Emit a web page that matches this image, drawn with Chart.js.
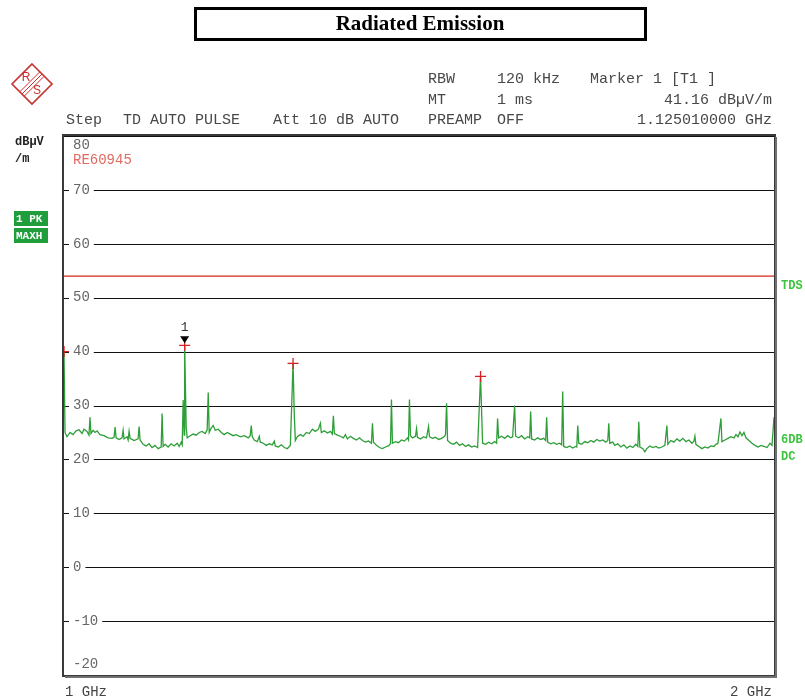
<!DOCTYPE html>
<html><head><meta charset="utf-8">
<script src="https://cdn.jsdelivr.net/npm/chart.js@4/dist/chart.umd.min.js"></script>
<style>html,body{margin:0;padding:0;background:#fff}canvas{display:block}</style>
</head><body>
<canvas id="c" width="805" height="699"></canvas>
<script>
// Sweep trace: frequency (MHz) and peak-hold level (dBµV/m)
const freqMHz = [
1000.0,1001.0,1002.9,1005.9,1008.8,1011.8,1014.8,1017.8,1019.7,1022.7,1024.7,1025.7,1026.7,1028.8,1030.8,1032.8,1035.8,1039.9,1044.0,1048.0,
1050.1,1051.1,1052.2,1055.2,1058.3,1059.4,1060.4,1063.5,1064.6,1065.6,1066.7,1070.8,1075.0,1076.1,1077.1,1080.3,1083.5,1086.6,1089.8,1093.0,
1096.2,1099.5,1100.5,1101.6,1103.8,1107.0,1110.3,1113.5,1116.8,1119.0,1121.2,1122.3,1123.4,1124.5,1125.01,1126.7,1127.8,1131.1,1134.4,1137.7,
1141.1,1144.4,1147.8,1150.0,1151.2,1152.3,1154.5,1156.8,1159.1,1162.5,1165.9,1169.3,1172.8,1176.2,1179.7,1183.1,1187.8,1192.4,1197.1,1199.4,
1200.6,1201.8,1204.1,1207.7,1210.0,1211.2,1214.8,1218.3,1221.9,1225.5,1227.9,1229.1,1232.7,1236.3,1240.0,1243.6,1246.0,1247.3,1250.6,1252.1,
1253.4,1255.8,1259.5,1263.2,1266.9,1270.6,1274.4,1278.1,1281.9,1284.4,1285.6,1289.4,1293.2,1297.0,1299.5,1300.8,1302.1,1305.9,1309.7,1313.6,
1316.2,1318.7,1322.6,1326.5,1330.4,1334.3,1338.2,1342.2,1346.1,1350.0,1351.4,1352.7,1356.7,1360.6,1364.6,1368.7,1372.7,1375.4,1376.7,1378.0,
1382.1,1386.2,1390.2,1394.3,1398.4,1399.8,1401.1,1402.5,1405.2,1409.4,1410.8,1412.1,1416.3,1420.5,1424.6,1427.4,1428.8,1433.0,1437.2,1441.4,
1445.7,1449.9,1451.3,1452.8,1454.2,1458.4,1462.7,1467.0,1471.3,1475.6,1480.0,1484.3,1488.7,1493.1,1497.5,1501.8,1504.8,1509.2,1513.7,1518.1,
1522.6,1525.5,1527.0,1528.5,1533.0,1537.5,1542.0,1546.5,1549.6,1552.6,1554.1,1558.7,1563.3,1567.9,1572.5,1575.6,1577.1,1578.6,1583.3,1587.9,
1592.6,1597.3,1600.4,1601.9,1603.5,1608.2,1613.0,1617.7,1622.4,1625.6,1627.2,1628.8,1633.6,1638.4,1643.2,1648.0,1649.7,1651.3,1652.9,1657.7,
1662.6,1667.5,1672.4,1677.3,1682.2,1687.2,1692.1,1697.1,1700.4,1702.1,1703.7,1708.7,1712.1,1717.1,1722.2,1727.2,1732.3,1737.4,1742.5,1747.6,
1751.0,1752.7,1754.5,1759.6,1763.1,1766.5,1771.7,1776.9,1782.1,1787.3,1792.6,1797.9,1801.4,1803.1,1808.4,1813.8,1819.1,1824.4,1829.8,1835.2,
1840.5,1845.9,1849.6,1851.4,1853.2,1858.6,1864.1,1869.5,1875.0,1880.5,1886.0,1889.8,1893.5,1899.0,1900.9,1906.5,1912.1,1917.7,1923.3,1927.1,
1930.9,1934.6,1938.4,1942.2,1946.0,1951.7,1957.4,1963.2,1969.0,1974.7,1980.5,1986.4,1992.2,1996.1,2000.0
];
const levelDb = [
40.0,25.0,24.2,25.0,24.6,25.3,25.5,24.8,25.6,25.2,24.5,27.8,24.8,25.4,25.0,25.3,24.6,24.4,24.0,23.9,
24.1,26.0,24.0,23.7,24.0,25.4,23.8,24.2,23.6,25.2,23.9,23.5,23.8,26.1,23.6,22.8,22.5,22.9,22.2,22.6,
22.0,22.3,28.5,22.4,22.8,22.3,22.9,22.5,23.0,22.4,23.2,22.7,31.0,24.5,41.16,26.0,24.0,24.4,24.7,24.5,
25.0,25.2,24.8,25.5,32.4,25.0,25.8,26.3,25.4,25.6,25.0,24.6,25.0,24.7,24.4,24.6,24.2,24.4,24.0,24.4,
26.3,24.2,23.6,23.3,24.3,23.2,23.0,22.6,22.9,22.7,23.4,22.5,22.3,22.7,22.2,22.0,22.4,22.6,37.8,28.3,
23.5,24.2,24.6,24.3,25.0,24.8,25.6,25.2,25.6,26.7,25.0,25.3,24.9,25.2,24.7,28.1,24.8,24.5,24.3,24.0,
24.6,23.8,24.3,23.9,23.6,24.0,23.5,23.2,23.4,23.0,26.7,23.2,22.6,22.2,22.0,22.3,22.5,22.9,31.1,23.0,
23.3,23.1,23.6,23.4,24.0,23.6,31.1,24.4,24.0,24.3,25.7,24.1,23.8,24.2,24.0,26.1,24.2,23.9,24.1,23.7,
23.9,24.3,24.6,30.4,23.5,23.0,22.8,23.2,22.6,22.9,22.4,22.7,22.3,22.5,22.2,35.4,23.0,22.8,23.2,22.9,
23.3,23.0,27.6,24.0,24.3,23.9,24.4,24.0,24.2,30.0,24.3,24.0,24.4,23.8,24.2,24.0,28.9,23.8,23.6,24.0,
23.7,23.9,23.5,27.8,23.2,22.9,23.1,22.8,23.0,22.7,32.6,22.4,22.2,22.5,22.1,22.4,22.3,26.3,23.0,22.8,
23.3,23.1,23.5,23.2,23.7,23.4,23.6,23.2,23.5,26.7,23.0,23.2,22.6,22.9,22.3,22.7,22.1,22.5,22.2,22.8,
22.4,27.0,22.3,22.0,21.4,22.0,22.5,22.2,22.4,22.1,22.3,22.6,26.3,22.8,23.5,23.2,23.8,23.4,23.9,23.3,
23.6,23.0,23.4,24.3,22.8,22.4,22.0,22.3,22.1,22.5,22.4,22.8,23.0,27.6,23.3,23.6,23.9,24.2,24.0,24.6,
24.2,25.1,24.4,25.0,24.0,23.5,23.0,22.6,22.3,22.6,22.4,22.2,23.0,22.6,27.8
];

// Peak markers (red crosses)
const peakFreqMHz = [1000.0, 1125.01, 1250.6, 1501.8];
const peakLevelDb = [40.0, 41.16, 37.8, 35.4];

// Limit line RE60945
const limitFreqMHz = [1000, 2000];
const limitLevelDb = [54, 54];

// Level axis labels
const yTickValues = [80, 70, 60, 50, 40, 30, 20, 10, 0, -10, -20];
const xEdgeLabels = ['1 GHz', '2 GHz'];

// Marker 1 readout
const marker1FreqGHz = 1.12501;
const marker1Level = 41.16;

const MONO = '"Liberation Mono", "DejaVu Sans Mono", monospace';
const GREEN_TXT = '#3ec43e';

function drawLogo(ctx) {
  const cx = 32, cy = 84, r = 20;
  ctx.save();
  ctx.strokeStyle = '#c8302c';
  ctx.lineWidth = 1.6;
  ctx.beginPath();
  ctx.moveTo(cx, cy - r); ctx.lineTo(cx + r, cy); ctx.lineTo(cx, cy + r); ctx.lineTo(cx - r, cy); ctx.closePath();
  ctx.stroke();
  // diagonal triple band between the letters
  ctx.lineWidth = 1;
  for (const o of [-2.2, 0, 2.2]) {
    ctx.beginPath();
    ctx.moveTo(cx - 10 + o, cy + 10 + o); ctx.lineTo(cx + 10 + o, cy - 10 + o);
    ctx.stroke();
  }
  ctx.fillStyle = '#c8302c';
  ctx.font = '12px "Liberation Sans", sans-serif';
  ctx.textAlign = 'center'; ctx.textBaseline = 'middle';
  ctx.fillText('R', cx - 6, cy - 6);
  ctx.fillText('S', cx + 5, cy + 7);
  ctx.restore();
}

const decor = {
  id: 'decor',
  beforeDatasetsDraw(chart) {
    const { ctx, chartArea: a, scales: { y } } = chart;
    ctx.save();
    ctx.strokeStyle = '#111';
    ctx.lineWidth = 1;
    yTickValues.forEach(v => {
      const py = Math.round(y.getPixelForValue(v)) + 0.5;
      ctx.beginPath(); ctx.moveTo(a.left, py); ctx.lineTo(a.right, py); ctx.stroke();
    });
    ctx.restore();
  },
  afterDatasetsDraw(chart) {
    const { ctx, chartArea: a, scales: { x, y } } = chart;
    ctx.save();
    // level labels on white patches over the grid
    ctx.font = '14px ' + MONO;
    ctx.textBaseline = 'middle';
    ctx.textAlign = 'left';
    yTickValues.forEach((v, i) => {
      let py = y.getPixelForValue(v);
      const txt = String(v);
      const w = ctx.measureText(txt).width;
      if (i === 0) py += 9;
      else if (i === yTickValues.length - 1) py -= 11;
      else {
        ctx.fillStyle = '#fff';
        ctx.fillRect(a.left + 5, py - 6, w + 8, 12);
      }
      ctx.fillStyle = '#666';
      ctx.fillText(txt, a.left + 9, py);
    });
    // limit line name
    ctx.fillStyle = '#e06a60';
    ctx.fillText('RE60945', a.left + 9, a.top + 24);

    // marker 1 triangle and number
    const mx = x.getPixelForValue(marker1FreqGHz * 1000);
    const my = y.getPixelForValue(marker1Level);
    ctx.fillStyle = '#000';
    ctx.beginPath();
    ctx.moveTo(mx, my - 2); ctx.lineTo(mx - 4.5, my - 9); ctx.lineTo(mx + 4.5, my - 9); ctx.closePath();
    ctx.fill();
    ctx.fillStyle = '#333';
    ctx.font = '13px ' + MONO;
    ctx.textAlign = 'center';
    ctx.fillText('1', mx, my - 18);

    // frame with shadow
    ctx.strokeStyle = '#3a3a3a';
    ctx.lineWidth = 2;
    ctx.strokeRect(a.left - 1, a.top - 1, a.right - a.left + 2, a.bottom - a.top + 2);
    ctx.fillStyle = '#707070';
    ctx.fillRect(a.right + 1, a.top + 1, 2, a.bottom - a.top + 2);
    ctx.fillRect(a.left + 1, a.bottom + 1, a.right - a.left + 2, 2);
    ctx.restore();
  },
  afterDraw(chart) {
    const { ctx } = chart;
    ctx.save();
    // title box
    ctx.strokeStyle = '#000';
    ctx.lineWidth = 3;
    ctx.strokeRect(195.5, 8.5, 450, 31);
    ctx.fillStyle = '#000';
    ctx.font = 'bold 21px "Liberation Serif", "Times New Roman", serif';
    ctx.textAlign = 'center'; ctx.textBaseline = 'middle';
    ctx.fillText('Radiated Emission', 420, 25);

    drawLogo(ctx);

    // instrument settings header
    ctx.font = '15px ' + MONO;
    ctx.fillStyle = '#484848';
    ctx.textAlign = 'left';
    const row = (txt, px, py) => ctx.fillText(txt, px, py);
    row('RBW', 428, 79); row('120 kHz', 497, 79); row('Marker 1 [T1 ]', 590, 79);
    row('MT', 428, 100); row('1 ms', 497, 100);
    row('Step', 66, 120); row('TD AUTO PULSE', 123, 120); row('Att 10 dB AUTO', 273, 120);
    row('PREAMP', 428, 120); row('OFF', 497, 120);
    ctx.textAlign = 'right';
    row(marker1Level.toFixed(2) + ' dBµV/m', 772, 100);
    row(marker1FreqGHz.toFixed(9) + ' GHz', 772, 120);

    // unit and trace info on the left
    ctx.textAlign = 'left';
    ctx.fillStyle = '#222';
    ctx.font = 'bold 12px ' + MONO;
    ctx.fillText('dBµV', 15, 142);
    ctx.fillText('/m', 15, 159);
    ctx.fillStyle = '#1f9e3b';
    ctx.fillRect(14, 211, 34, 15);
    ctx.fillRect(14, 228, 34, 15);
    ctx.fillStyle = '#fff';
    ctx.font = 'bold 11px ' + MONO;
    ctx.fillText('1 PK', 16, 219);
    ctx.fillText('MAXH', 16, 236);

    // right-side annotations
    ctx.fillStyle = GREEN_TXT;
    ctx.font = 'bold 12px ' + MONO;
    ctx.fillText('TDS', 781, 286);
    ctx.fillText('6DB', 781, 440);
    ctx.fillText('DC', 781, 457);

    // frequency span ends
    ctx.fillStyle = '#444';
    ctx.font = '14px ' + MONO;
    ctx.fillText(xEdgeLabels[0], 65, 692);
    ctx.textAlign = 'right';
    ctx.fillText(xEdgeLabels[1], 772, 692);
    ctx.restore();
  }
};

const trace = freqMHz.map((f, i) => ({ x: f, y: levelDb[i] }));
const peaks = peakFreqMHz.map((f, i) => ({ x: f, y: peakLevelDb[i] }));
const limit = limitFreqMHz.map((f, i) => ({ x: f, y: limitLevelDb[i] }));

new Chart(document.getElementById('c'), {
  type: 'line',
  data: {
    datasets: [
      { label: 'RE60945', data: limit, borderColor: '#d8261c', borderWidth: 1.2, pointRadius: 0, order: 3 },
      { label: '1 PK MAXH', data: trace, borderColor: '#2e9e38', borderWidth: 1.3, pointRadius: 0, tension: 0, order: 2 },
      { label: 'peaks', data: peaks, showLine: false, pointStyle: 'cross', pointRadius: 5.5,
        pointBorderColor: '#d42020', pointBorderWidth: 1.3, order: 1 }
    ]
  },
  options: {
    responsive: false,
    animation: false,
    devicePixelRatio: 1,
    layout: { padding: { left: 64, top: 136, right: 31, bottom: 24 } },
    plugins: { legend: { display: false }, tooltip: { enabled: false } },
    scales: {
      x: { type: 'logarithmic', min: 1000, max: 2000, display: false },
      y: { type: 'linear', min: -20, max: 80, display: false }
    }
  },
  plugins: [decor]
});
</script>
</body></html>
